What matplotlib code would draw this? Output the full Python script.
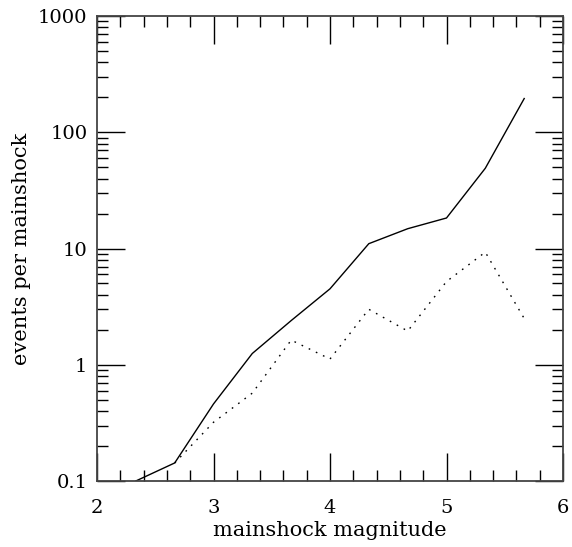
import matplotlib
matplotlib.use("Agg")
import matplotlib.pyplot as plt
from matplotlib.ticker import FixedLocator, MultipleLocator, LogLocator, NullFormatter

# DATA
# -----------------------------------------------
mag_solid = [2.333, 2.667, 3.0, 3.333, 3.667, 4.0, 4.333, 4.667, 5.0, 5.333, 5.667]
events_solid = [0.1, 0.143, 0.46, 1.25, 2.4, 4.5, 11.0, 14.8, 18.3, 49.0, 195.0]

mag_dotted = [2.667, 3.0, 3.333, 3.667, 4.0, 4.333, 4.667, 5.0, 5.333, 5.667]
events_dotted = [0.143, 0.32, 0.57, 1.63, 1.12, 3.0, 1.95, 5.2, 9.3, 2.5]

x_ticks = [2, 3, 4, 5, 6]
y_ticks = [0.1, 1, 10, 100, 1000]
y_labels = ["0.1", "1", "10", "100", "1000"]

# PLOTTING
# -----------------------------------------------
plt.rcParams["font.family"] = "DejaVu Serif"

fig = plt.figure(figsize=(5.72, 5.47), dpi=100)
ax = fig.add_axes([97 / 572, 1 - 481 / 547, 466 / 572, 465 / 547])

ax.plot(mag_solid, events_solid, color="black", lw=1.0, solid_joinstyle="miter")
ax.plot(mag_dotted, events_dotted, color="black", lw=1.0, linestyle=(0, (1.2, 4.5)))

ax.set_yscale("log")
ax.set_xlim(2, 6)
ax.set_ylim(0.1, 1000)

ax.xaxis.set_major_locator(FixedLocator(x_ticks))
ax.xaxis.set_minor_locator(MultipleLocator(0.2))
ax.yaxis.set_major_locator(FixedLocator(y_ticks))
ax.yaxis.set_minor_locator(LogLocator(base=10, subs=range(2, 10)))
ax.yaxis.set_minor_formatter(NullFormatter())
ax.set_yticklabels(y_labels)
ax.set_xticklabels([str(t) for t in x_ticks])

ax.tick_params(which="both", direction="in", top=True, right=True, color="black", labelsize=14)
ax.tick_params(which="major", length=20, width=1.0)
ax.tick_params(axis="x", which="major", pad=13)
ax.tick_params(axis="y", which="major", pad=7)
ax.tick_params(which="minor", length=8, width=1.0)

for s in ax.spines.values():
    s.set_linewidth(1.3)
    s.set_color("#444444")

ax.set_xlabel("mainshock magnitude", fontsize=15, labelpad=3)
ax.set_ylabel("events per mainshock", fontsize=15, labelpad=5)

fig.savefig("out.png", dpi=100)
